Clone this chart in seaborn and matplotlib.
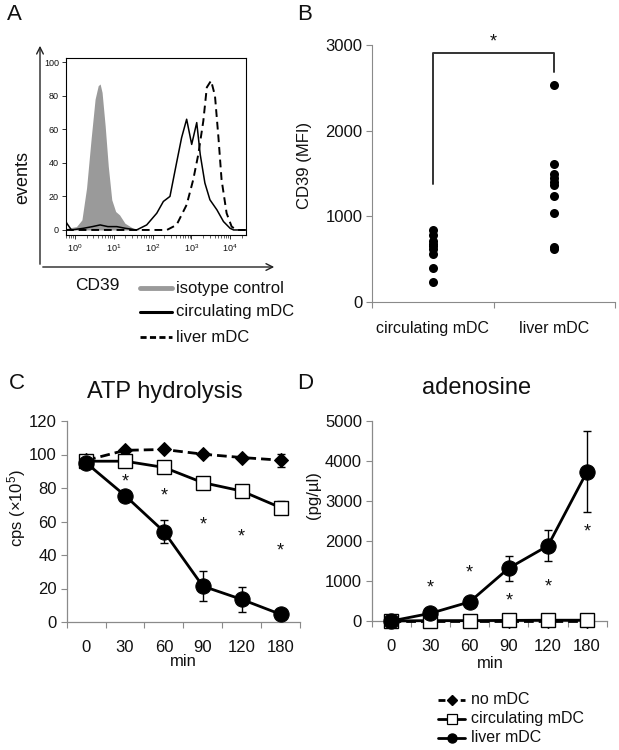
import numpy as np
import pandas as pd
import matplotlib
matplotlib.use("Agg")
import matplotlib.pyplot as plt
import seaborn as sns
from matplotlib.lines import Line2D
from matplotlib.patches import FancyArrowPatch
from matplotlib.ticker import LogLocator, NullFormatter

# ---------------- data ----------------
# Panel A: flow histogram traces (x in log10 fluorescence, y = events %)
iso_log = [-0.25, -0.21, 0.04, 0.18, 0.30, 0.42, 0.52, 0.60, 0.65, 0.70, 0.78, 0.86, 0.95, 1.05, 1.15, 1.29, 1.50, 1.67, 4.45]
iso_y = [0, 1, 2, 6, 25, 55, 78, 86, 87, 82, 62, 38, 18, 11, 9, 4, 1, 0, 0]
circ_log = [-0.23, -0.21, -0.09, 0.22, 0.45, 0.65, 0.85, 1.08, 1.30, 1.59, 1.85, 2.11, 2.28, 2.45, 2.62, 2.75, 2.88, 3.01, 3.14, 3.23, 3.35, 3.48, 3.66, 3.83, 4.00, 4.09, 4.40]
circ_y = [5, 4, 0, 1, 2, 3, 2, 2, 1, 0, 3, 10, 17, 20, 40, 55, 66, 51, 64, 45, 28, 18, 12, 5, 1, 0, 0]
liver_log = [-0.23, 2.37, 2.62, 2.88, 3.05, 3.18, 3.31, 3.40, 3.51, 3.61, 3.70, 3.78, 3.91, 4.04, 4.17, 4.40]
liver_y = [0, 0, 3, 15, 30, 45, 65, 85, 89, 80, 55, 30, 10, 2, 0, 0]

# Panel B: CD39 MFI
b_categories = ["circulating mDC", "liver mDC"]
b_circulating = [840, 780, 710, 680, 650, 620, 560, 400, 230]
b_liver = [2530, 1610, 1490, 1450, 1400, 1370, 1240, 1040, 640, 620]

# Panels C, D
time_labels = ["0", "30", "60", "90", "120", "180"]
c_no = [96.5, 102.5, 103, 100.2, 98.2, 96.6]
c_no_err = [1, 1, 1, 1, 1, 3.8]
c_circ = [96, 96, 92.3, 83.2, 78.2, 68.3]
c_circ_err = [1, 1, 1, 1, 1, 3.8]
c_liver = [95, 75.5, 54, 21.4, 13.5, 4.6]
c_liver_err = [1, 2.5, 7, 9, 7.5, 1]
c_star_y = [83.5, 75, 58.2, 50.5, 42.4]

d_no = [0, 0, 0, 0, 0, 0]
d_circ = [0, 10, 10, 15, 20, 20]
d_liver = [0, 192, 477, 1321, 1881, 3737]
d_liver_err = [0, 60, 80, 310, 390, 1020]
d_star_y = [830, 1190, 495, 855, 2225]

# ---------------- style ----------------
sns.set_style("ticks")
plt.rcParams["font.family"] = ["Liberation Sans", "DejaVu Sans"]
plt.rcParams["mathtext.fontset"] = "custom"
plt.rcParams["mathtext.rm"] = "Liberation Sans"
plt.rcParams["mathtext.it"] = "Liberation Sans:italic"
plt.rcParams["mathtext.bf"] = "Liberation Sans:bold"
TXT = "#111111"
SPINE = "#8a8a8a"

W, H = 619, 750
fig = plt.figure(figsize=(W / 100, H / 100), dpi=100)


def ax_px(x0, y0, x1, y1):
    return fig.add_axes([x0 / W, 1 - y1 / H, (x1 - x0) / W, (y1 - y0) / H])


def fxy(x, y):
    return (x / W, 1 - y / H)


# ---------------- Panel A ----------------
axA = ax_px(66, 58, 246, 235)
axA.set_xscale("log")
xi = 10 ** np.array(iso_log)
axA.fill_between(xi, iso_y, 0, color="#9a9a9a", lw=0, zorder=1)
sns.lineplot(x=10 ** np.array(circ_log), y=circ_y, ax=axA, color="black",
             linewidth=1.1, sort=False, estimator=None, zorder=3)
sns.lineplot(x=10 ** np.array(liver_log), y=liver_y, ax=axA, color="black",
             linewidth=1.4, linestyle=(0, (4, 2.5)), sort=False, estimator=None, zorder=3)
axA.set_xlim(10 ** -0.23, 10 ** 4.41)
axA.set_ylim(-3, 102.5)
axA.set_yticks([0, 20, 40, 60, 80, 100])
axA.set_xticks([1, 10, 100, 1000, 10000])
axA.set_xticklabels([r"$10^{0}$", r"$10^{1}$", r"$10^{2}$", r"$10^{3}$", r"$10^{4}$"])
axA.xaxis.set_minor_locator(LogLocator(base=10, subs=np.arange(2, 10)))
axA.xaxis.set_minor_formatter(NullFormatter())
axA.tick_params(axis="both", which="major", labelsize=6.5, length=3, width=0.6, colors=TXT, pad=2)
axA.tick_params(axis="x", which="minor", length=1.8, width=0.5)
axA.set_xlabel("")
axA.set_ylabel("")
for s in axA.spines.values():
    s.set_color("black")
    s.set_linewidth(0.8)

fig.add_artist(FancyArrowPatch(posA=fxy(40, 267), posB=fxy(40, 43), transform=fig.transFigure,
                               arrowstyle="->", mutation_scale=12, lw=1.0, color="#222222"))
fig.add_artist(FancyArrowPatch(posA=fxy(40, 267), posB=fxy(277, 267), transform=fig.transFigure,
                               arrowstyle="->", mutation_scale=12, lw=1.0, color="#222222"))
fig.text(*fxy(23, 177), "events", rotation=90, ha="center", va="center", fontsize=13, color=TXT)
fig.text(*fxy(97, 285), "CD39", ha="center", va="center", fontsize=12.5, color=TXT)

a_leg = [("isotype control", dict(color="#9a9a9a", lw=3.5)),
         ("circulating mDC", dict(color="black", lw=2.2)),
         ("liver mDC", dict(color="black", lw=2.0, linestyle=(0, (2.2, 1.2))))]
for i, (lab, kw) in enumerate(a_leg):
    yy = [288, 312, 337][i]
    fig.add_artist(Line2D([140 / W, 172 / W], [1 - yy / H] * 2, transform=fig.transFigure, **kw))
    fig.text(*fxy(176, yy), lab, ha="left", va="center", fontsize=12, color=TXT)

# ---------------- Panel B ----------------
axB = ax_px(372, 45, 615, 302)
dfB = pd.DataFrame({
    "group": [b_categories[0]] * len(b_circulating) + [b_categories[1]] * len(b_liver),
    "value": b_circulating + b_liver,
})
sns.stripplot(data=dfB, x="group", y="value", order=b_categories, jitter=False,
              color="black", size=6.5, ax=axB, zorder=3)
axB.set_xlim(-0.5, 1.5)
axB.set_ylim(0, 3000)
axB.set_yticks([0, 1000, 2000, 3000])
axB.set_xticks([-0.5, 0.5, 1.5], minor=True)
axB.tick_params(axis="x", which="major", length=0, labelsize=11.5, pad=14, colors=TXT)
axB.tick_params(axis="x", which="minor", length=4, width=0.8, color=SPINE)
axB.tick_params(axis="y", which="major", length=4, width=0.8, color=SPINE, labelsize=12, labelcolor=TXT, pad=3)
axB.set_xlabel("")
axB.set_ylabel("")
sns.despine(ax=axB)
for s in ("left", "bottom"):
    axB.spines[s].set_color(SPINE)
    axB.spines[s].set_linewidth(0.8)
axB.plot([0, 0, 1, 1], [1380, 2910, 2910, 2680], color="#333333", lw=1.4, clip_on=False)
axB.text(0.5, 3040, "*", ha="center", va="center", fontsize=13, color=TXT, clip_on=False)
fig.text(*fxy(305, 165), "CD39 (MFI)", rotation=90, ha="center", va="center", fontsize=12, color=TXT)


# ---------------- Panels C and D ----------------
def style_line_axes(ax, ymax, yticks):
    ax.set_xlim(-0.5, 5.5)
    ax.set_ylim(0, ymax)
    ax.set_yticks(yticks)
    ax.set_xticks(range(6))
    ax.set_xticklabels(time_labels)
    ax.set_xticks(np.arange(-0.5, 6, 1), minor=True)
    ax.tick_params(axis="x", which="major", length=0, labelsize=12, pad=13, colors=TXT)
    ax.tick_params(axis="x", which="minor", length=4, width=0.8, color=SPINE)
    ax.tick_params(axis="y", which="major", length=4, width=0.8, color=SPINE, labelsize=12, labelcolor=TXT, pad=3)
    ax.set_xlabel("")
    ax.set_ylabel("")
    sns.despine(ax=ax)
    for s in ("left", "bottom"):
        ax.spines[s].set_color(SPINE)
        ax.spines[s].set_linewidth(0.9)


def draw_series(ax, vals, err, kind):
    x = np.arange(len(vals))
    if kind == "no":
        kw = dict(color="black", marker="D", markersize=7, linestyle=(0, (3.5, 1.8)), linewidth=2,
                  markerfacecolor="black", markeredgecolor="black")
        z = 3
    elif kind == "circ":
        kw = dict(color="black", marker="s", markersize=10.5, linestyle="-", linewidth=2,
                  markerfacecolor="white", markeredgecolor="black", markeredgewidth=1.0)
        z = 4
    else:
        kw = dict(color="black", marker="o", markersize=11, linestyle="-", linewidth=2,
                  markerfacecolor="black", markeredgecolor="black")
        z = 5
    if err is not None:
        ax.errorbar(x, vals, yerr=err, fmt="none", ecolor="black", elinewidth=1.0,
                    capsize=3, capthick=1.0, zorder=z - 0.5, clip_on=False)
    sns.lineplot(x=x, y=vals, ax=ax, clip_on=False, zorder=z, estimator=None, **kw)


axC = ax_px(66.7, 421, 300, 622)
draw_series(axC, c_no, c_no_err, "no")
draw_series(axC, c_circ, c_circ_err, "circ")
draw_series(axC, c_liver, c_liver_err, "liver")
style_line_axes(axC, 120, [0, 20, 40, 60, 80, 100, 120])
for xs, ys in zip(range(1, 6), c_star_y):
    axC.text(xs, ys, "*", ha="center", va="center", fontsize=13, color=TXT)
fig.text(*fxy(165, 392), "ATP hydrolysis", ha="center", va="center", fontsize=17, color=TXT)
fig.text(*fxy(17, 508), r"cps (×10$^{5}$)", rotation=90, ha="center", va="center", fontsize=12, color=TXT)
fig.text(*fxy(183, 661), "min", ha="center", va="center", fontsize=12, color=TXT)

axD = ax_px(371.7, 421, 606.7, 621)
draw_series(axD, d_no, None, "no")
draw_series(axD, d_circ, None, "circ")
draw_series(axD, d_liver, d_liver_err, "liver")
style_line_axes(axD, 5000, [0, 1000, 2000, 3000, 4000, 5000])
for xs, ys in zip(range(1, 6), d_star_y):
    axD.text(xs, ys, "*", ha="center", va="center", fontsize=13, color=TXT)
fig.text(*fxy(477, 388), "adenosine", ha="center", va="center", fontsize=17, color=TXT)
fig.text(*fxy(313, 495), "(pg/µl)", rotation=90, ha="center", va="center", fontsize=12, color=TXT)
fig.text(*fxy(490, 663), "min", ha="center", va="center", fontsize=12, color=TXT)

# bottom legend
leg = [("no mDC", dict(marker="D", markersize=5, markerfacecolor="black", linestyle=(0, (2.5, 1.5)))),
       ("circulating mDC", dict(marker="s", markersize=6.5, markerfacecolor="white", markeredgewidth=0.9, linestyle="-")),
       ("liver mDC", dict(marker="o", markersize=6.5, markerfacecolor="black", linestyle="-"))]
for (lab, kw), yy in zip(leg, [700, 719, 738]):
    fig.add_artist(Line2D([438 / W, 451.5 / W, 465 / W], [1 - yy / H] * 3, transform=fig.transFigure,
                          color="black", lw=2, markevery=[1], markeredgecolor="black", **kw))
    fig.text(*fxy(471, yy), lab, ha="left", va="center", fontsize=11.5, color=TXT)

# panel letters
for lab, (px, py) in zip("ABCD", [(14, 14), (305, 14), (17, 383), (305, 383)]):
    fig.text(*fxy(px, py), lab, ha="center", va="center", fontsize=16, color=TXT)

fig.savefig("out.png", dpi=100)
